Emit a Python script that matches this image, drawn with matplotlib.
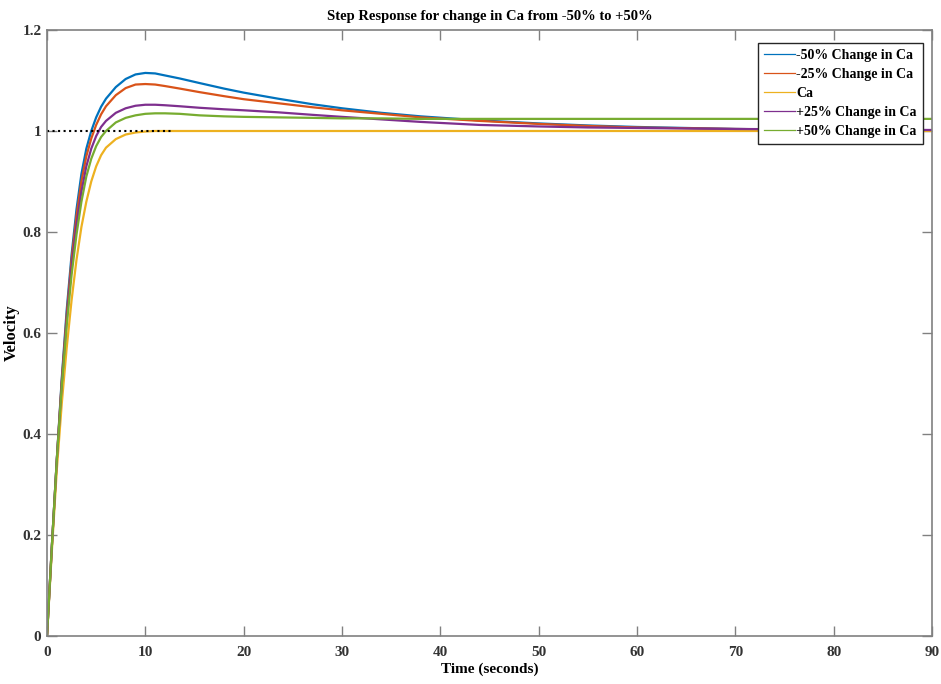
import numpy as np
import matplotlib
matplotlib.use("Agg")
import matplotlib.pyplot as plt

# step response samples (time in seconds, velocity)
t = [0, 0.5, 1, 1.5, 2, 2.5, 3, 3.5, 4, 4.5, 5, 5.5, 6, 7, 8, 9, 10, 11, 12,
     13.5, 15.5, 18, 20, 23.5, 27, 30, 34, 38, 44, 50, 55, 60, 70, 80, 90]

v_m50 = [0, 0.18, 0.35, 0.51, 0.645, 0.755, 0.845, 0.915, 0.965, 1.0, 1.027,
         1.048, 1.064, 1.087, 1.103, 1.112, 1.115, 1.114, 1.110, 1.104, 1.095,
         1.084, 1.076, 1.064, 1.053, 1.045, 1.036, 1.029, 1.021, 1.015, 1.011,
         1.008, 1.004, 1.002, 1.001]
v_m25 = [0, 0.18, 0.35, 0.505, 0.635, 0.745, 0.832, 0.9, 0.95, 0.985, 1.012,
         1.033, 1.049, 1.071, 1.085, 1.092, 1.093, 1.092, 1.089, 1.084, 1.077,
         1.069, 1.063, 1.055, 1.047, 1.041, 1.034, 1.027, 1.020, 1.014, 1.010,
         1.007, 1.004, 1.002, 1.001]
v_ca = [0, 0.17, 0.33, 0.46, 0.57, 0.665, 0.745, 0.81, 0.86, 0.9, 0.93,
        0.952, 0.967, 0.984, 0.993, 0.997, 0.999, 1.0, 1.0, 1.0, 1.0,
        1.0, 1.0, 1.0, 1.0, 1.0, 1.0, 1.0, 1.0, 1.0, 1.0,
        1.0, 1.0, 1.0, 1.0]
v_p25 = [0, 0.18, 0.35, 0.5, 0.625, 0.73, 0.815, 0.88, 0.93, 0.965, 0.99,
         1.008, 1.02, 1.036, 1.045, 1.05, 1.052, 1.052, 1.051, 1.049, 1.046,
         1.043, 1.041, 1.037, 1.032, 1.028, 1.023, 1.018, 1.012, 1.009, 1.007,
         1.006, 1.004, 1.003, 1.002]
v_p50 = [0, 0.18, 0.35, 0.495, 0.615, 0.715, 0.795, 0.86, 0.91, 0.945, 0.97,
         0.988, 1.0, 1.017, 1.026, 1.031, 1.034, 1.035, 1.035, 1.034, 1.031,
         1.029, 1.028, 1.027, 1.026, 1.025, 1.025, 1.024, 1.024, 1.024, 1.024,
         1.024, 1.024, 1.024, 1.024]

labels = ["-50% Change in Ca", "-25% Change in Ca", "Ca",
          "+25% Change in Ca", "+50% Change in Ca"]
colors = ["#0072BD", "#D95319", "#EDB120", "#7E2F8E", "#77AC30"]
series = [v_m50, v_m25, v_ca, v_p25, v_p50]

# steady state marker
ss_value = 1.0
ss_end = 12.8

plt.rcParams["font.family"] = ["Liberation Serif", "DejaVu Serif"]
plt.rcParams["font.weight"] = "bold"

fig = plt.figure(figsize=(9.41, 6.84), dpi=100)
ax = fig.add_axes([47 / 941, 48 / 684, 885 / 941, 606 / 684])

for vals, col, lab in zip(series, colors, labels):
    ax.plot(t, vals, color=col, lw=1.6, label=lab)

ax.plot([0, ss_end], [ss_value, ss_value], color="black", ls=":", lw=1.5)

ax.set_xlim(0, 90)
ax.set_ylim(0, 1.2)
ax.set_xticks(np.arange(0, 91, 10))
ax.set_yticks([0, 0.2, 0.4, 0.6, 0.8, 1.0, 1.2])
ax.set_yticklabels(["0", "0.2", "0.4", "0.6", "0.8", "1", "1.2"])

for s in ax.spines.values():
    s.set_color("#808080")
    s.set_linewidth(1.2)
ax.tick_params(direction="in", length=7, width=1.0, color="#808080",
               top=True, right=True, labelsize=11, labelcolor="#333333")
ax.tick_params(axis="x", pad=7)
ax.tick_params(axis="y", pad=4)

ax.set_title("Step Response for change in Ca from -50% to +50%",
             fontsize=10.5, fontweight="bold", pad=7)
ax.set_xlabel("Time (seconds)", fontsize=11, fontweight="bold", labelpad=3)
ax.set_ylabel("Velocity", fontsize=12, fontweight="bold", labelpad=2)

leg = ax.legend(loc="upper right", bbox_to_anchor=(0.9898, 0.9785),
                borderaxespad=0, fancybox=False, framealpha=1,
                edgecolor="#262626", fontsize=10, handlelength=2.2,
                handletextpad=0.1, labelspacing=0.42, borderpad=0.45)
leg.get_frame().set_linewidth(1.0)
for line in leg.get_lines():
    line.set_linewidth(0.9)

fig.savefig("out.png", dpi=100)
